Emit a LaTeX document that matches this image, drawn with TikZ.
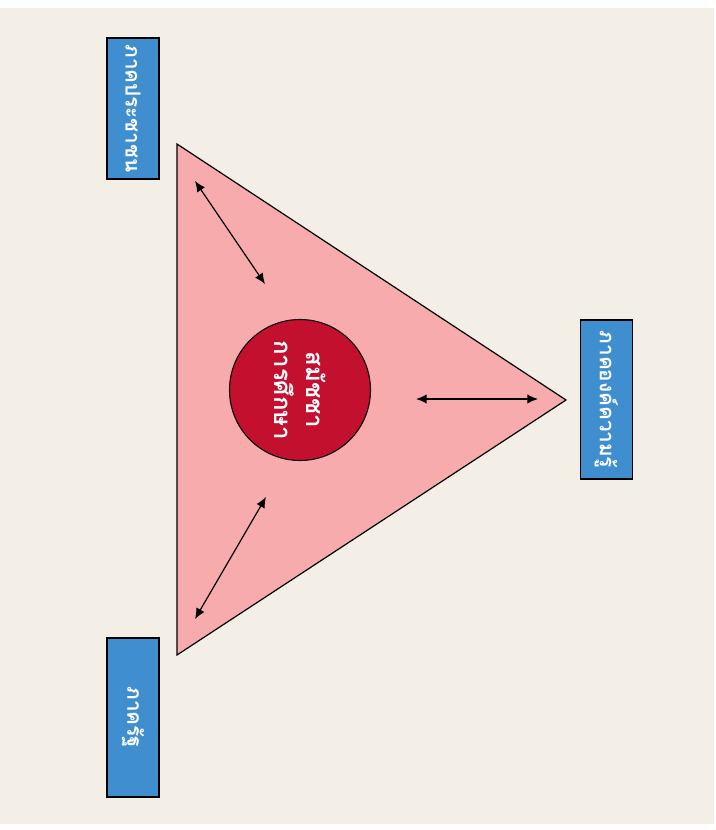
\documentclass[tikz,border=0pt]{standalone}
\usepackage{fontspec}
\newfontfamily\thaifont[Script=Thai]{Loma}
\usetikzlibrary{arrows.meta}
\definecolor{bgbeige}{HTML}{F3EFE7}
\definecolor{tripink}{HTML}{F7ABAD}
\definecolor{circred}{HTML}{C3102F}
\definecolor{boxblue}{HTML}{3F8FD0}
\tikzset{
  sidebox/.style={draw=black, line width=1.2pt, fill=boxblue, rotate=-90, minimum width=159*0.75pt, minimum height=52*0.75pt, inner sep=0pt, text=white, font=\thaifont\bfseries\fontsize{15.5}{20}\selectfont},
  dblarrow/.style={{Latex[length=8pt,width=7pt]}-{Latex[length=8pt,width=7pt]}, line width=0.9pt},
}
\begin{document}
\begin{tikzpicture}[x=0.75pt,y=-0.75pt]
\useasboundingbox (0,0) rectangle (716,830);
\fill[white] (0,0) rectangle (716,830);
\fill[bgbeige] (0,8) rectangle (714,824);
\draw[fill=tripink, line width=0.9pt] (177,144) -- (566,400) -- (177,655) -- cycle;
\node[circle, draw=black, line width=0.8pt, fill=circred, minimum size=141*0.75pt, inner sep=0pt, rotate=-90, align=center, text=white, font=\thaifont\bfseries\fontsize{18}{24}\selectfont] (c) at (300,390) {สมัชชา\\การศึกษา};
\node[sidebox, minimum width=141*0.75pt] (pb) at (133,108.5) {ภาคประชาชน};
\node[sidebox] (kn) at (606.5,399.5) {ภาคองค์ความรู้};
\node[sidebox] (st) at (133,717.5) {ภาครัฐ};
\coordinate (a1s) at (195,181);
\coordinate (a1e) at (265,284);
\coordinate (a2s) at (195,619);
\coordinate (a2e) at (266,497);
\coordinate (a3s) at (416,399);
\coordinate (a3e) at (538,399);
\draw[dblarrow] (a1s) -- (a1e);
\draw[dblarrow] (a2s) -- (a2e);
\draw[dblarrow] (a3s) -- (a3e);
\end{tikzpicture}
\end{document}
